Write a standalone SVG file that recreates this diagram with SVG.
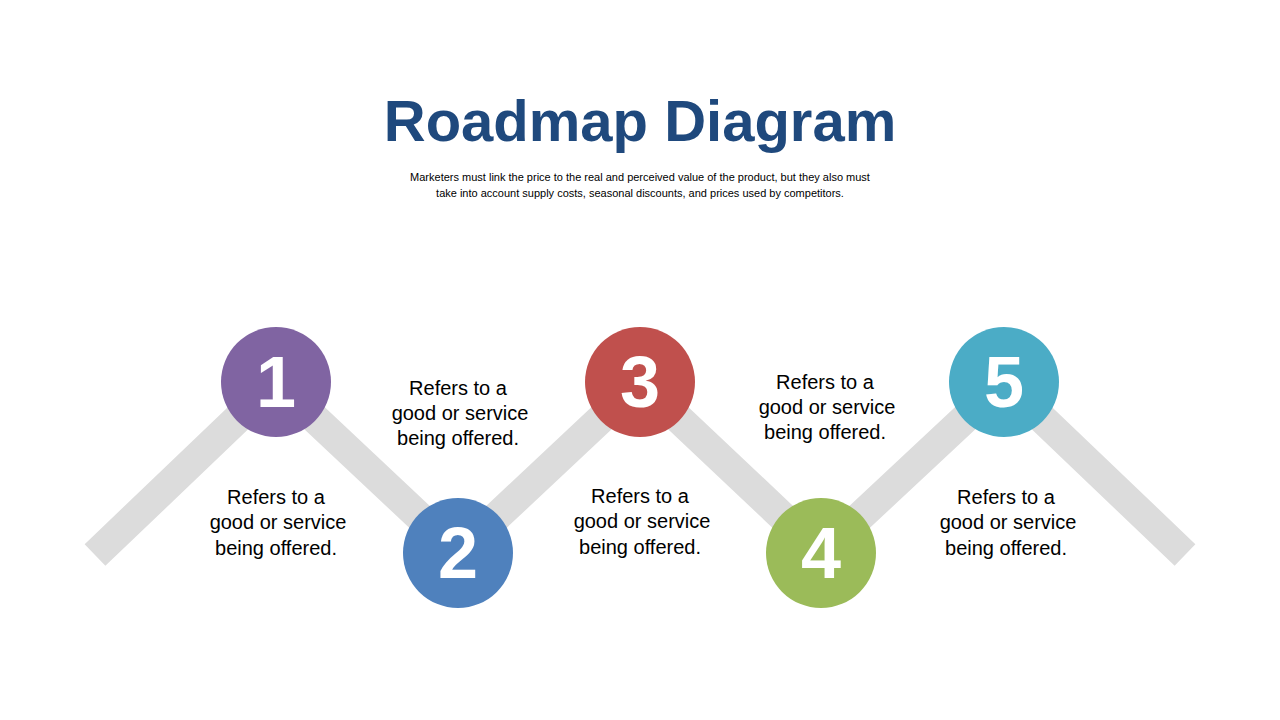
<svg xmlns="http://www.w3.org/2000/svg" width="1280" height="720" viewBox="0 0 1280 720">
<style>
.t{font-family:"Liberation Sans",Arial,sans-serif;text-anchor:middle}
.n{font-family:"Liberation Sans",Arial,sans-serif;font-weight:bold;font-size:72px;fill:#fff;text-anchor:middle}
.d{font-family:"Liberation Sans",Arial,sans-serif;font-size:20px;fill:#000;text-anchor:middle}
</style>
<rect width="1280" height="720" fill="#fff"/>
<text class="t" x="640" y="141" font-size="58" font-weight="bold" fill="#1f497d">Roadmap Diagram</text>
<text class="t" x="640" y="181" font-size="11" fill="#000" font-family="Open Sans,sans-serif">Marketers must link the price to the real and perceived value of the product, but they also must</text>
<text class="t" x="640" y="197" font-size="11" fill="#000">take into account supply costs, seasonal discounts, and prices used by competitors.</text>
<g id="connectors">
<polyline points="95,555 276,382 458,553 640,382 821,553 1004,382 1185,555" fill="none" stroke="#dcdcdc" stroke-width="30" stroke-linejoin="miter"/>
</g>
<g id="node1"><circle cx="276" cy="382" r="55" fill="#8064a2"/><text class="n" x="276" y="407">1</text></g>
<g id="node2"><circle cx="458" cy="553" r="55" fill="#4f81bd"/><text class="n" x="458" y="578">2</text></g>
<g id="node3"><circle cx="640" cy="382" r="55" fill="#c0504d"/><text class="n" x="640" y="407">3</text></g>
<g id="node4"><circle cx="821" cy="553" r="55" fill="#9bbb59"/><text class="n" x="821" y="578">4</text></g>
<g id="node5"><circle cx="1004" cy="382" r="55" fill="#4bacc6"/><text class="n" x="1004" y="407">5</text></g>
<g id="label1"><text class="d" x="276" y="504">Refers to a</text><text class="d" x="278" y="529">good or service</text><text class="d" x="276" y="555">being offered.</text></g>
<g id="label2"><text class="d" x="458" y="395">Refers to a</text><text class="d" x="460" y="420">good or service</text><text class="d" x="458" y="445">being offered.</text></g>
<g id="label3"><text class="d" x="640" y="503">Refers to a</text><text class="d" x="642" y="528">good or service</text><text class="d" x="640" y="554">being offered.</text></g>
<g id="label4"><text class="d" x="825" y="389">Refers to a</text><text class="d" x="827" y="414">good or service</text><text class="d" x="825" y="439">being offered.</text></g>
<g id="label5"><text class="d" x="1006" y="504">Refers to a</text><text class="d" x="1008" y="529">good or service</text><text class="d" x="1006" y="555">being offered.</text></g>
</svg>
